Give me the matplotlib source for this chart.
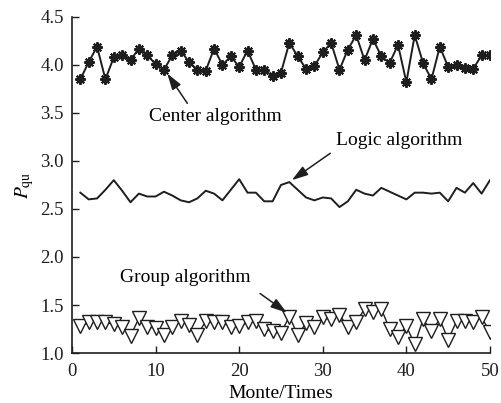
import numpy as np
import matplotlib
matplotlib.use('Agg')
import matplotlib.pyplot as plt

plt.rcParams['font.family'] = 'Liberation Serif'
plt.rcParams['mathtext.fontset'] = 'stix'
plt.rcParams['font.size'] = 13

# Monte Carlo runs
runs = np.arange(1, 51)

center = [3.85, 4.03, 4.19, 3.85, 4.08, 4.10, 4.05, 4.17, 4.10, 4.01,
          3.95, 4.10, 4.15, 4.03, 3.95, 3.94, 4.17, 4.00, 4.09, 3.98,
          4.15, 3.95, 3.95, 3.88, 3.92, 4.23, 4.09, 3.96, 3.99, 4.13,
          4.23, 3.95, 4.16, 4.31, 4.05, 4.27, 4.09, 4.02, 4.21, 3.82,
          4.31, 4.02, 3.85, 4.19, 3.98, 4.00, 3.97, 3.96, 4.10, 4.10]

logic = [2.67, 2.60, 2.61, 2.70, 2.80, 2.69, 2.57, 2.66, 2.63, 2.63,
         2.68, 2.64, 2.59, 2.57, 2.61, 2.69, 2.66, 2.59, 2.70, 2.81,
         2.67, 2.67, 2.58, 2.58, 2.75, 2.78, 2.70, 2.62, 2.59, 2.62,
         2.61, 2.52, 2.58, 2.70, 2.66, 2.64, 2.72, 2.68, 2.64, 2.60,
         2.67, 2.67, 2.66, 2.67, 2.58, 2.72, 2.67, 2.77, 2.66, 2.80]

group = [1.28, 1.32, 1.32, 1.32, 1.30, 1.27, 1.18, 1.36, 1.27, 1.26,
         1.19, 1.27, 1.33, 1.29, 1.19, 1.33, 1.32, 1.32, 1.27, 1.28,
         1.32, 1.33, 1.25, 1.23, 1.21, 1.38, 1.19, 1.31, 1.27, 1.37,
         1.35, 1.40, 1.27, 1.32, 1.46, 1.43, 1.46, 1.25, 1.17, 1.28,
         1.09, 1.35, 1.23, 1.35, 1.14, 1.33, 1.33, 1.32, 1.37, 1.22]

yticks = [1.0, 1.5, 2.0, 2.5, 3.0, 3.5, 4.0, 4.5]
xticks = [0, 10, 20, 30, 40, 50]

lc = '#1e1e1e'

fig = plt.figure(figsize=(5.02, 4.03), dpi=100)
ax = fig.add_axes([0.1434, 0.124, 0.8326, 0.834])

ax.plot(runs, center, color=lc, lw=1.4, marker=(8, 2, 0), ms=7.5, mew=1.5, mec=lc)
ax.plot(runs, logic, color=lc, lw=1.4)
ax.plot(runs, group, color=lc, lw=1.0, marker='v', ms=9.5, mfc='white', mec=lc, mew=1.0)

ax.set_xlim(0, 50)
ax.set_ylim(1.0, 4.5)
ax.set_xticks(xticks)
ax.set_yticks(yticks)
ax.set_yticklabels(['%.1f' % v for v in yticks])
ax.tick_params(direction='in', length=5, width=1, colors=lc, labelsize=13.5)
ax.tick_params(axis='x', pad=7)
ax.tick_params(axis='y', pad=6)
for side in ['top', 'right']:
    ax.spines[side].set_visible(False)
for side in ['left', 'bottom']:
    ax.spines[side].set_color(lc)
    ax.spines[side].set_linewidth(1.2)

ax.set_xlabel('Monte/Times', fontsize=14, labelpad=4)
ax.set_ylabel(r'$P_{\rm qu}$', fontsize=14, labelpad=3)

arrow = dict(arrowstyle='-|>,head_length=0.7,head_width=0.22', color=lc, lw=1.1,
             mutation_scale=14, shrinkA=0, shrinkB=0)
ax.text(17.1, 3.46, 'Center algorithm', ha='center', va='center', fontsize=14)
ax.annotate('', xy=(11.4, 3.91), xytext=(13.8, 3.6), arrowprops=arrow)
ax.text(39.1, 3.21, 'Logic algorithm', ha='center', va='center', fontsize=14)
ax.annotate('', xy=(26.3, 2.80), xytext=(30.9, 3.08), arrowprops=arrow)
ax.text(13.5, 1.79, 'Group algorithm', ha='center', va='center', fontsize=14)
ax.annotate('', xy=(25.7, 1.42), xytext=(22.5, 1.62), arrowprops=arrow)

fig.savefig('out.png', dpi=100, facecolor='white')
